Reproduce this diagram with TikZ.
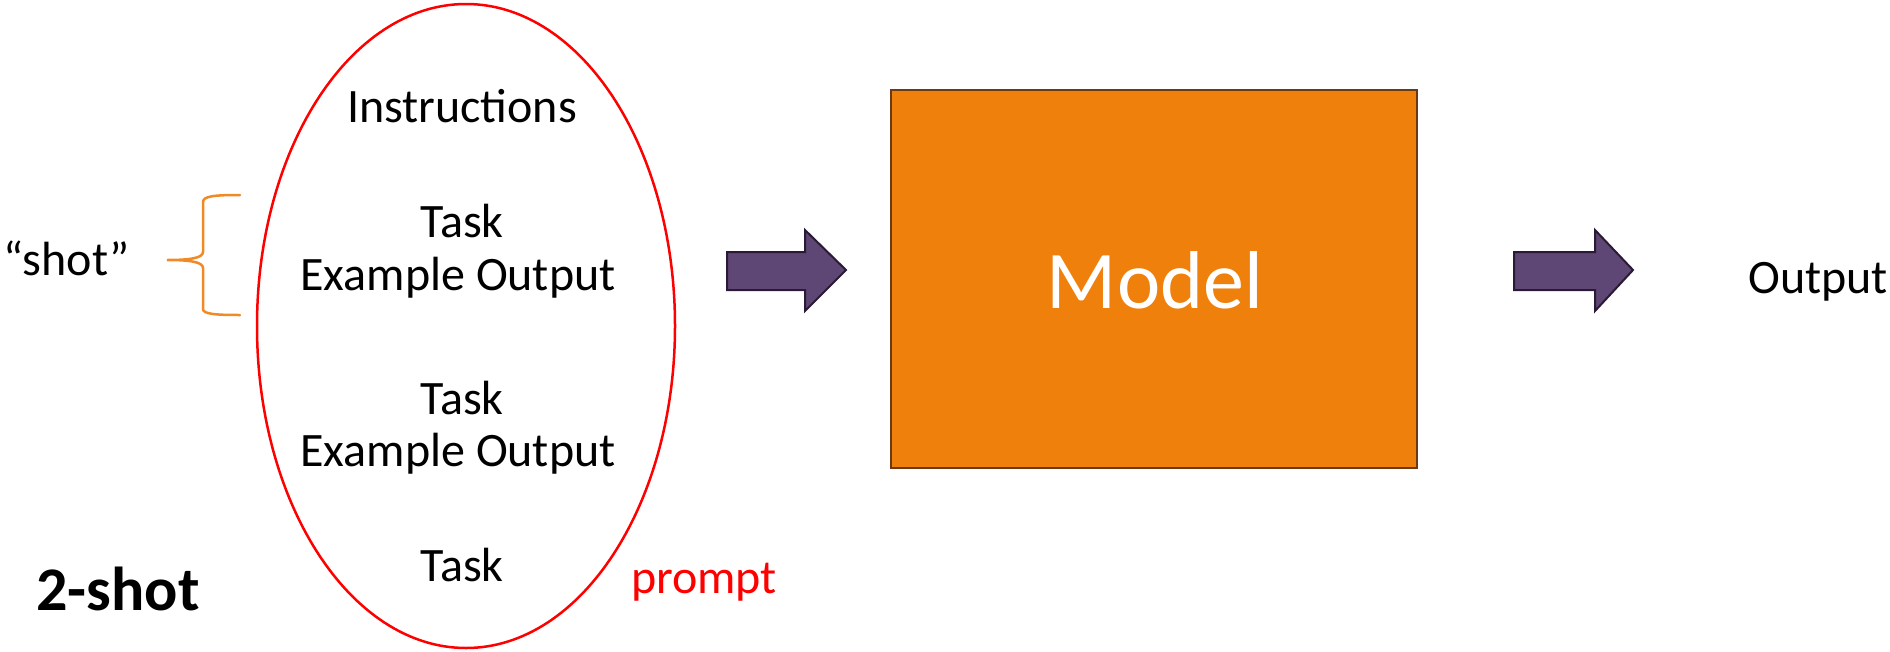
\documentclass[tikz,border=0pt]{standalone}
\usepackage{fontspec}
\setmainfont{Carlito}
\definecolor{modelfill}{HTML}{F0800C}
\definecolor{modeldraw}{HTML}{6B3A10}
\definecolor{arrfill}{HTML}{5E4775}
\definecolor{arrdraw}{HTML}{2A1A35}
\definecolor{braceor}{HTML}{F08A24}
\tikzset{
  txt/.style={font=\fontsize{48}{58}\selectfont, inner sep=0pt, anchor=base},
  fatarrow/.style={fill=arrfill, draw=arrdraw, line width=2pt, line join=miter},
}
\begin{document}
\begin{tikzpicture}[x=1pt,y=-1pt]
\useasboundingbox (0,0) rectangle (1890,651);
% prompt ellipse
\draw[red, line width=2.5pt] (466,326) ellipse [x radius=209, y radius=322];
\node[txt] (instr) at (462,122) {Instructions};
\node[txt] (task1) at (462,237) {Task};
\node[txt] (ex1) at (458,290) {Example Output};
\node[txt] (task2) at (462,414) {Task};
\node[txt] (ex2) at (458,466) {Example Output};
\node[txt] (task3) at (462,581) {Task};
\node[txt, text=red] (prompt) at (704,593) {prompt};
\node[txt, font=\fontsize{62}{74}\selectfont\bfseries] (twoshot) at (118,610) {2-shot};
\node[txt] (shot) at (67,275) {“shot”};
% brace
\draw[braceor, line width=2.5pt, line cap=round]
  (240,195) .. controls (215,195) and (203,196) .. (203,202)
  -- (203,252) .. controls (203,258) and (190,260) .. (167,260)
  .. controls (190,260) and (203,262) .. (203,268)
  -- (203,309) .. controls (203,314) and (215,315) .. (240,315);
% model
\node[draw=modeldraw, fill=modelfill, line width=2pt, minimum width=526pt, minimum height=378pt, inner sep=0pt] (model) at (1154,279) {};
\node[txt, text=white, font=\fontsize{82}{98}\selectfont] (modeltxt) at (1155,308) {Model};
% arrows
\draw[fatarrow] (727,252) -- (805,252) -- (805,230) -- (846,270) -- (805,311) -- (805,290) -- (727,290) -- cycle;
\draw[fatarrow] (1514,252) -- (1595,252) -- (1595,230) -- (1633,270) -- (1595,311) -- (1595,290) -- (1514,290) -- cycle;
\node[txt, anchor=base east] (out) at (1888,293) {Output};
\end{tikzpicture}
\end{document}
